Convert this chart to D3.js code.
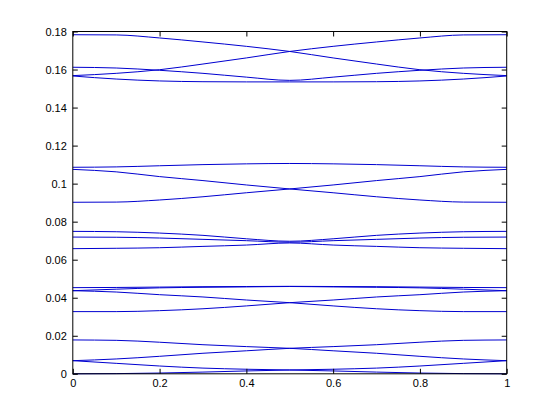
<!DOCTYPE html>
<html>
<head>
<meta charset="utf-8">
<script src="https://cdn.jsdelivr.net/npm/d3@7"></script>
<style>
  body { margin: 0; background: #fff; }
  svg { display: block; }
  .tick text { font-family: "Liberation Sans", Arial, sans-serif; font-size: 11px; fill: #000; }
</style>
</head>
<body>
<div id="chart"></div>
<script>
// wavenumber samples
const k = [0, 0.1, 0.2, 0.3, 0.4, 0.5, 0.6, 0.7, 0.8, 0.9, 1];

// bands
const band1  = [0.1783, 0.1782, 0.1766, 0.1745, 0.1722, 0.1695, 0.1661, 0.1629, 0.1599, 0.1580, 0.1568];
const band2  = [0.1568, 0.1580, 0.1599, 0.1629, 0.1661, 0.1695, 0.1722, 0.1745, 0.1766, 0.1782, 0.1783];
const band3  = [0.1612, 0.1608, 0.1596, 0.1580, 0.1560, 0.1543, 0.1560, 0.1580, 0.1596, 0.1608, 0.1612];
const band4  = [0.1566, 0.1550, 0.1540, 0.1536, 0.1535, 0.1535, 0.1535, 0.1536, 0.1540, 0.1550, 0.1566];
const band5  = [0.1086, 0.1088, 0.1094, 0.1100, 0.1104, 0.1106, 0.1104, 0.1100, 0.1094, 0.1088, 0.1086];
const band6  = [0.1075, 0.1062, 0.1037, 0.1016, 0.0993, 0.0972, 0.0952, 0.0931, 0.0914, 0.0903, 0.0902];
const band7  = [0.0902, 0.0903, 0.0914, 0.0931, 0.0952, 0.0972, 0.0993, 0.1016, 0.1037, 0.1062, 0.1075];
const band8  = [0.0749, 0.0747, 0.0740, 0.0728, 0.0710, 0.0697, 0.0710, 0.0728, 0.0740, 0.0747, 0.0749];
const band9  = [0.0719, 0.0718, 0.0714, 0.0707, 0.0700, 0.0692, 0.0700, 0.0707, 0.0714, 0.0718, 0.0719];
const band10 = [0.0658, 0.0660, 0.0663, 0.0670, 0.0677, 0.0688, 0.0677, 0.0670, 0.0663, 0.0660, 0.0658];
const band11 = [0.0453, 0.0454, 0.0456, 0.0458, 0.0459, 0.0460, 0.0459, 0.0458, 0.0456, 0.0454, 0.0453];
const band12 = [0.0437, 0.0445, 0.0452, 0.0455, 0.0457, 0.0459, 0.0457, 0.0455, 0.0452, 0.0445, 0.0437];
const band13 = [0.0437, 0.0430, 0.0416, 0.0404, 0.0388, 0.0374, 0.0357, 0.0342, 0.0332, 0.0327, 0.0327];
const band14 = [0.0327, 0.0327, 0.0332, 0.0342, 0.0357, 0.0374, 0.0388, 0.0404, 0.0416, 0.0430, 0.0437];
const band15 = [0.0178, 0.0176, 0.0166, 0.0153, 0.0143, 0.0134, 0.0121, 0.0108, 0.0092, 0.0078, 0.0069];
const band16 = [0.0069, 0.0078, 0.0092, 0.0108, 0.0121, 0.0134, 0.0143, 0.0153, 0.0166, 0.0176, 0.0178];
const band17 = [0.0069, 0.0055, 0.0041, 0.0030, 0.0024, 0.0020, 0.0015, 0.0009, 0.0004, 0.0001, 0.0000];
const band18 = [0.0000, 0.0001, 0.0004, 0.0009, 0.0015, 0.0020, 0.0024, 0.0030, 0.0041, 0.0055, 0.0069];

const bands = [band1, band2, band3, band4, band5, band6, band7, band8, band9,
  band10, band11, band12, band13, band14, band15, band16, band17, band18];

const xTicks = [0, 0.2, 0.4, 0.6, 0.8, 1];
const yTicks = [0, 0.02, 0.04, 0.06, 0.08, 0.1, 0.12, 0.14, 0.16, 0.18];

const width = 560;
const height = 420;
const margin = { top: 31.5, right: 53.3, bottom: 46.2, left: 72.8 };

const svg = d3.select('#chart')
  .append('svg')
  .attr('width', width)
  .attr('height', height)
  .attr('viewBox', [0, 0, width, height]);

svg.append('rect')
  .attr('width', width)
  .attr('height', height)
  .attr('fill', '#fff');

const x = d3.scaleLinear()
  .domain([0, 1])
  .range([margin.left, width - margin.right]);

const y = d3.scaleLinear()
  .domain([0, 0.18])
  .range([height - margin.bottom, margin.top]);

const line = d3.line()
  .x((d, i) => x(k[i]))
  .y(d => y(d))
  .curve(d3.curveMonotoneX);

svg.append('g')
  .selectAll('path')
  .data(bands)
  .enter()
  .append('path')
  .attr('d', line)
  .attr('fill', 'none')
  .attr('stroke', '#0000d0')
  .attr('stroke-width', 1);

// axes: ticks point inward on all four sides
const tickLen = 5;
const fmt = d => String(+d.toFixed(2));

const bottomAxis = svg.append('g')
  .attr('transform', `translate(0,${height - margin.bottom})`)
  .call(d3.axisBottom(x).tickValues(xTicks).tickFormat(fmt)
    .tickSizeInner(-tickLen).tickSizeOuter(0).tickPadding(5));

const leftAxis = svg.append('g')
  .attr('transform', `translate(${margin.left},0)`)
  .call(d3.axisLeft(y).tickValues(yTicks).tickFormat(fmt)
    .tickSizeInner(-tickLen).tickSizeOuter(0).tickPadding(6));

const topAxis = svg.append('g')
  .attr('transform', `translate(0,${margin.top})`)
  .call(d3.axisTop(x).tickValues(xTicks).tickFormat('')
    .tickSizeInner(-tickLen).tickSizeOuter(0));

const rightAxis = svg.append('g')
  .attr('transform', `translate(${width - margin.right},0)`)
  .call(d3.axisRight(y).tickValues(yTicks).tickFormat('')
    .tickSizeInner(-tickLen).tickSizeOuter(0));

svg.selectAll('.domain').remove();
svg.selectAll('.tick line').attr('stroke', '#000');

// axes box
svg.append('rect')
  .attr('x', margin.left)
  .attr('y', margin.top)
  .attr('width', width - margin.left - margin.right)
  .attr('height', height - margin.top - margin.bottom)
  .attr('fill', 'none')
  .attr('stroke', '#000')
  .attr('stroke-width', 1);
</script>
</body>
</html>
